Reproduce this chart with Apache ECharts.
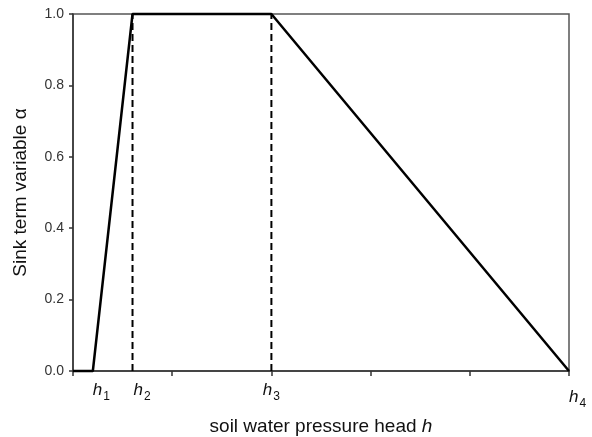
<!DOCTYPE html>
<html>
<head>
<meta charset="utf-8">
<script src="https://cdn.jsdelivr.net/npm/echarts@6/dist/echarts.min.js"></script>
<style>
html,body{margin:0;padding:0;background:#fff;}
#chart{width:592px;height:437px;}
</style>
</head>
<body>
<div id="chart"></div>
<script>
// Data
var curveX = [0, 0.2, 0.6, 2, 5];
var curveY = [0, 0, 1, 1, 0];
var dashX = [0.6, 2];
var dashYFrom = [0, 0];
var dashYTo = [1, 1];
var hPositions = [0.2, 0.6, 2, 5];
var hSubs = ['1', '2', '3', '4'];
var xTicks = [0, 1, 2, 3, 4, 5];

var chart = echarts.init(document.getElementById('chart'));

var curveData = curveX.map(function (x, i) { return [x, curveY[i]]; });
var dashSeries = dashX.map(function (x, i) {
  return {
    type: 'line',
    data: [[x, dashYFrom[i]], [x, dashYTo[i]]],
    symbol: 'none',
    clip: false,
    lineStyle: { color: '#000', width: 2, type: [7, 4] },
    z: 3
  };
});

// per-label horizontal / vertical nudges
var padLeft = [17, 18, 0, 17];
var dropDown = [false, false, false, true];

var font = 'Liberation Sans, Arial, sans-serif';

chart.setOption({
  animation: false,
  backgroundColor: '#fff',
  grid: {
    left: 73, right: 23, top: 14, bottom: 66,
    outerBoundsMode: 'none',
    containLabel: false,
    show: true, borderColor: '#555', borderWidth: 1.5
  },
  xAxis: {
    type: 'value',
    min: 0, max: 5, interval: 1,
    name: 'soil water pressure head {i|h}',
    nameLocation: 'middle',
    nameGap: 46,
    nameTextStyle: {
      fontFamily: font, fontSize: 19, color: '#111',
      rich: { i: { fontFamily: font, fontSize: 19, fontStyle: 'italic', color: '#111' } }
    },
    axisLine: { show: true, lineStyle: { color: '#333', width: 1.5 } },
    axisTick: { show: true, length: 5, customValues: xTicks, lineStyle: { color: '#333', width: 1.5 } },
    splitLine: { show: false },
    axisLabel: {
      customValues: hPositions,
      margin: 10,
      formatter: function (v) {
        var idx = -1;
        for (var k = 0; k < hPositions.length; k++) {
          if (Math.abs(hPositions[k] - v) < 1e-9) idx = k;
        }
        if (idx < 0) return '';
        var s = '';
        if (padLeft[idx] > 0) s += '{sp' + padLeft[idx] + '| }';
        if (dropDown[idx]) s += '{tall| }';
        s += '{h|h}{s|' + hSubs[idx] + '}';
        return s;
      },
      rich: {
        h: { fontFamily: font, fontSize: 17, fontStyle: 'italic', color: '#111', lineHeight: 18, verticalAlign: 'bottom' },
        s: { fontFamily: font, fontSize: 12, color: '#111', lineHeight: 12, verticalAlign: 'bottom', padding: [0, 0, -4, 1] },
        sp17: { width: 17, lineHeight: 18, verticalAlign: 'bottom' },
        sp18: { width: 19, lineHeight: 18, verticalAlign: 'bottom' },
        tall: { width: 0, lineHeight: 25, verticalAlign: 'bottom' }
      }
    }
  },
  yAxis: {
    type: 'value',
    min: 0, max: 1, interval: 0.2,
    name: 'Sink term variable α',
    nameLocation: 'middle',
    nameGap: 43,
    nameTextStyle: { fontFamily: font, fontSize: 19, color: '#111' },
    axisLine: { show: true, lineStyle: { color: '#333', width: 1.5 } },
    axisTick: { show: true, length: 4, lineStyle: { color: '#333', width: 1.5 } },
    splitLine: { show: false },
    axisLabel: {
      margin: 9,
      fontFamily: font, fontSize: 14, color: '#333',
      formatter: function (v) { return v.toFixed(1); }
    }
  },
  series: [{
    type: 'line',
    data: curveData,
    symbol: 'none',
    clip: false,
    lineStyle: { color: '#000', width: 2.5 },
    z: 4
  }].concat(dashSeries)
});
</script>
</body>
</html>
